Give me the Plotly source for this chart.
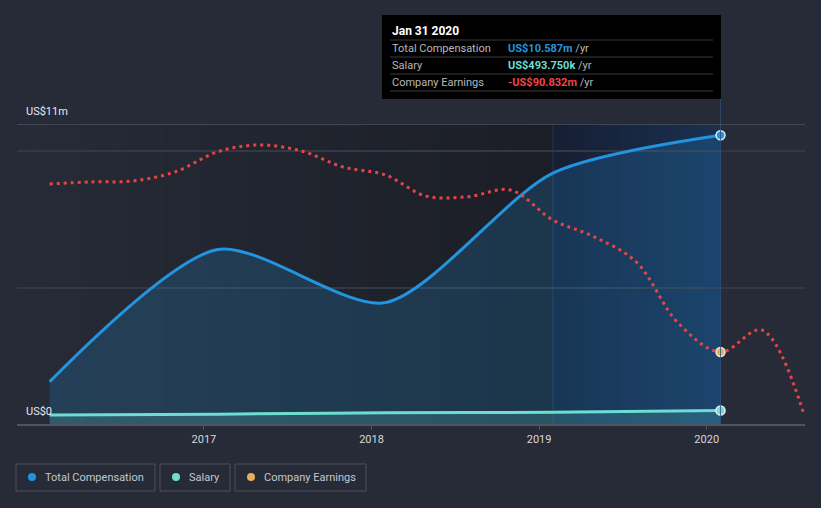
import plotly.graph_objects as go

# ---------------- data ----------------
comp_dates = ["2016-01-31", "2017-01-31", "2018-01-31", "2019-01-31", "2020-01-31"]
total_comp = [1.55, 6.4, 4.45, 9.2, 10.587]           # US$ m
salary = [0.33, 0.36, 0.41, 0.43, 0.49375]            # US$ m

earn_dates = ["2016-01-31", "2016-04-30", "2016-07-31", "2016-10-31",
              "2017-01-31", "2017-04-30", "2017-07-31", "2017-10-31",
              "2018-01-31", "2018-04-30", "2018-07-31", "2018-10-31",
              "2019-01-31", "2019-04-30", "2019-07-31", "2019-10-31",
              "2020-01-31", "2020-04-30", "2020-07-31"]
earnings = [-1.8, -0.7, -0.2, 4.7,
            15.3, 18.9, 15.8, 7.2,
            3.0, -8.2, -8.5, -5.0,
            -20.9, -29.7, -43.0, -75.5,
            -90.832, -79.2, -124.2]                     # US$ m

year_ticks = ["2017-01-01", "2018-01-01", "2019-01-01", "2020-01-01"]
year_labels = ["2017", "2018", "2019", "2020"]

BG = "#262b37"
BLUE = "#2394df"
TEAL = "#6cdfd2"
RED = "#e64545"
ORANGE = "#e8ad5d"
FONT = "Roboto"

L, R, T, B = 17, 805, 124, 424
W_, H_ = R - L, B - T


def px(x):
    return (x - L) / W_


def py(y):
    return (B - y) / H_


def hexmix(c1, c2, t):
    a = [int(c1[i:i + 2], 16) for i in (1, 3, 5)]
    b = [int(c2[i:i + 2], 16) for i in (1, 3, 5)]
    return "#" + "".join(f"{round(a[k] + (b[k] - a[k]) * t):02x}" for k in range(3))


fig = go.Figure()

# total compensation area + line
fig.add_trace(go.Scatter(x=comp_dates, y=total_comp, mode="lines",
                         line=dict(color=BLUE, width=3, shape="spline", smoothing=0.75),
                         fill="tozeroy", fillcolor="rgba(35,148,223,0.20)",
                         hoverinfo="skip", showlegend=False))
# salary
fig.add_trace(go.Scatter(x=comp_dates, y=salary, mode="lines",
                         line=dict(color=TEAL, width=3, shape="spline"),
                         fill="tozeroy", fillcolor="rgba(108,223,210,0.18)",
                         hoverinfo="skip", showlegend=False))
# earnings (secondary hidden axis)
fig.add_trace(go.Scatter(x=earn_dates, y=earnings, mode="lines", yaxis="y2",
                         line=dict(color=RED, width=3, shape="spline", smoothing=1.0,
                                   dash="3px,4px"),
                         hoverinfo="skip", showlegend=False))

# end markers
fig.add_trace(go.Scatter(x=[comp_dates[-1]], y=[total_comp[-1]], mode="markers",
                         marker=dict(color=BLUE, size=9, line=dict(color="#e6ecf2", width=1.5)),
                         hoverinfo="skip", showlegend=False))
fig.add_trace(go.Scatter(x=[comp_dates[-1]], y=[salary[-1]], mode="markers",
                         marker=dict(color=TEAL, size=9, line=dict(color="#e6ecf2", width=1.5)),
                         hoverinfo="skip", showlegend=False))
fig.add_trace(go.Scatter(x=[earn_dates[16]], y=[earnings[16]], mode="markers", yaxis="y2",
                         marker=dict(color=ORANGE, size=9, line=dict(color="#e6ecf2", width=1.5)),
                         hoverinfo="skip", showlegend=False))

shapes = []
# background gradient region (left)
N = 40
x0, x1 = 17, 553
for i in range(N):
    a = x0 + (x1 - x0) * i / N
    b = x0 + (x1 - x0) * (i + 1) / N + 0.5
    shapes.append(dict(type="rect", xref="paper", yref="paper", x0=px(a), x1=px(b),
                       y0=0, y1=1, fillcolor=hexmix("#262b37", "#1b1e26", (i + 0.5) / N),
                       line=dict(width=0), layer="below"))
# highlighted last-year region
x0, x1 = 553, 720
N = 20
for i in range(N):
    a = x0 + (x1 - x0) * i / N
    b = x0 + (x1 - x0) * (i + 1) / N + 0.5
    shapes.append(dict(type="rect", xref="paper", yref="paper", x0=px(a), x1=px(b),
                       y0=0, y1=1, fillcolor=hexmix("#161f33", "#1a3050", (i + 0.5) / N),
                       line=dict(width=0), layer="below"))
# region border lines
shapes.append(dict(type="line", xref="paper", yref="paper", x0=px(553), x1=px(553), y0=0, y1=1,
                   line=dict(color="rgba(40,70,105,0.6)", width=1), layer="below"))
shapes.append(dict(type="line", xref="paper", yref="paper", x0=px(720.5), x1=px(720.5), y0=0, y1=py(99),
                   line=dict(color="rgba(45,80,120,0.8)", width=1)))
# top line at 11m
shapes.append(dict(type="line", xref="paper", yref="y", x0=0, x1=1, y0=11, y1=11,
                   line=dict(color="#4d525d", width=1.5)))

# tooltip box
shapes.append(dict(type="rect", xref="paper", yref="paper", x0=px(382), x1=px(721),
                   y0=py(99), y1=py(15), fillcolor="#000000", line=dict(width=0)))
for yy in (40, 57, 74, 91):
    shapes.append(dict(type="line", xref="paper", yref="paper", x0=px(390), x1=px(713),
                       y0=py(yy), y1=py(yy), line=dict(color="#3a3a3a", width=1)))

# legend boxes
legend_items = [("Total Compensation", BLUE, 16, 155), ("Salary", TEAL, 160, 230),
                ("Company Earnings", ORANGE, 235, 366)]
annotations = []
for name, col, bx0, bx1 in legend_items:
    shapes.append(dict(type="rect", xref="paper", yref="paper", x0=px(bx0), x1=px(bx1),
                       y0=py(491), y1=py(464), line=dict(color="#4b505b", width=1),
                       fillcolor="rgba(0,0,0,0)"))
    cx = bx0 + 16
    shapes.append(dict(type="circle", xref="paper", yref="paper", x0=px(cx - 4), x1=px(cx + 4),
                       y0=py(481), y1=py(473), fillcolor=col, line=dict(width=0)))
    annotations.append(dict(xref="paper", yref="paper", x=px(bx0 + 27), y=py(477.5),
                            text=name, showarrow=False, xanchor="left", yanchor="middle",
                            font=dict(family=FONT, size=11, color="#c3c7ce")))

# axis labels
annotations.append(dict(xref="paper", yref="paper", x=px(24), y=py(112), text="US$11m",
                        showarrow=False, xanchor="left", yanchor="middle",
                        font=dict(family=FONT, size=11, color="#e6e8ec")))
annotations.append(dict(xref="paper", yref="paper", x=px(24), y=py(411), text="US$0",
                        showarrow=False, xanchor="left", yanchor="middle",
                        font=dict(family=FONT, size=11, color="#e6e8ec")))

# tooltip texts
annotations.append(dict(xref="paper", yref="paper", x=px(390), y=py(31), text="<b>Jan 31 2020</b>",
                        showarrow=False, xanchor="left", yanchor="middle",
                        font=dict(family=FONT, size=12, color="#ffffff")))
rows = [("Total Compensation", "US$10.587m", BLUE, 48.5),
        ("Salary", "US$493.750k", TEAL, 65.5),
        ("Company Earnings", "-US$90.832m", "#f04545", 82.5)]
for lab, val, col, yy in rows:
    annotations.append(dict(xref="paper", yref="paper", x=px(390), y=py(yy), text=lab,
                            showarrow=False, xanchor="left", yanchor="middle",
                            font=dict(family=FONT, size=11, color="#b8b8b8")))
    annotations.append(dict(xref="paper", yref="paper", x=px(506), y=py(yy),
                            text=f"<b><span style='color:{col}'>{val}</span></b> /yr",
                            showarrow=False, xanchor="left", yanchor="middle",
                            font=dict(family=FONT, size=11, color="#b8b8b8")))

fig.update_layout(
    width=821, height=508,
    margin=dict(l=L, r=821 - R, t=T, b=508 - B),
    paper_bgcolor=BG, plot_bgcolor=BG,
    shapes=shapes, annotations=annotations,
    showlegend=False,
    xaxis=dict(type="date", range=["2015-11-21", "2020-08-02"],
               tickvals=year_ticks, ticktext=year_labels,
               showgrid=False, zeroline=False,
               showline=True, linecolor="#4f5460", linewidth=1.5,
               ticks="outside", ticklen=4, tickcolor="#4f5460",
               tickfont=dict(family=FONT, size=11, color="#d6d9de"),
               fixedrange=True),
    yaxis=dict(range=[0, 11], tickvals=[5, 10], showticklabels=False,
               showgrid=True, gridcolor="#333845", gridwidth=1.5,
               zeroline=False, showline=False, fixedrange=True),
    yaxis2=dict(range=[-129, 30], overlaying="y", visible=False, fixedrange=True),
    font=dict(family=FONT),
)

fig.write_html("out.html", config={"displayModeBar": False},
               post_script="document.body.style.margin='0';document.body.style.overflow='hidden';")
